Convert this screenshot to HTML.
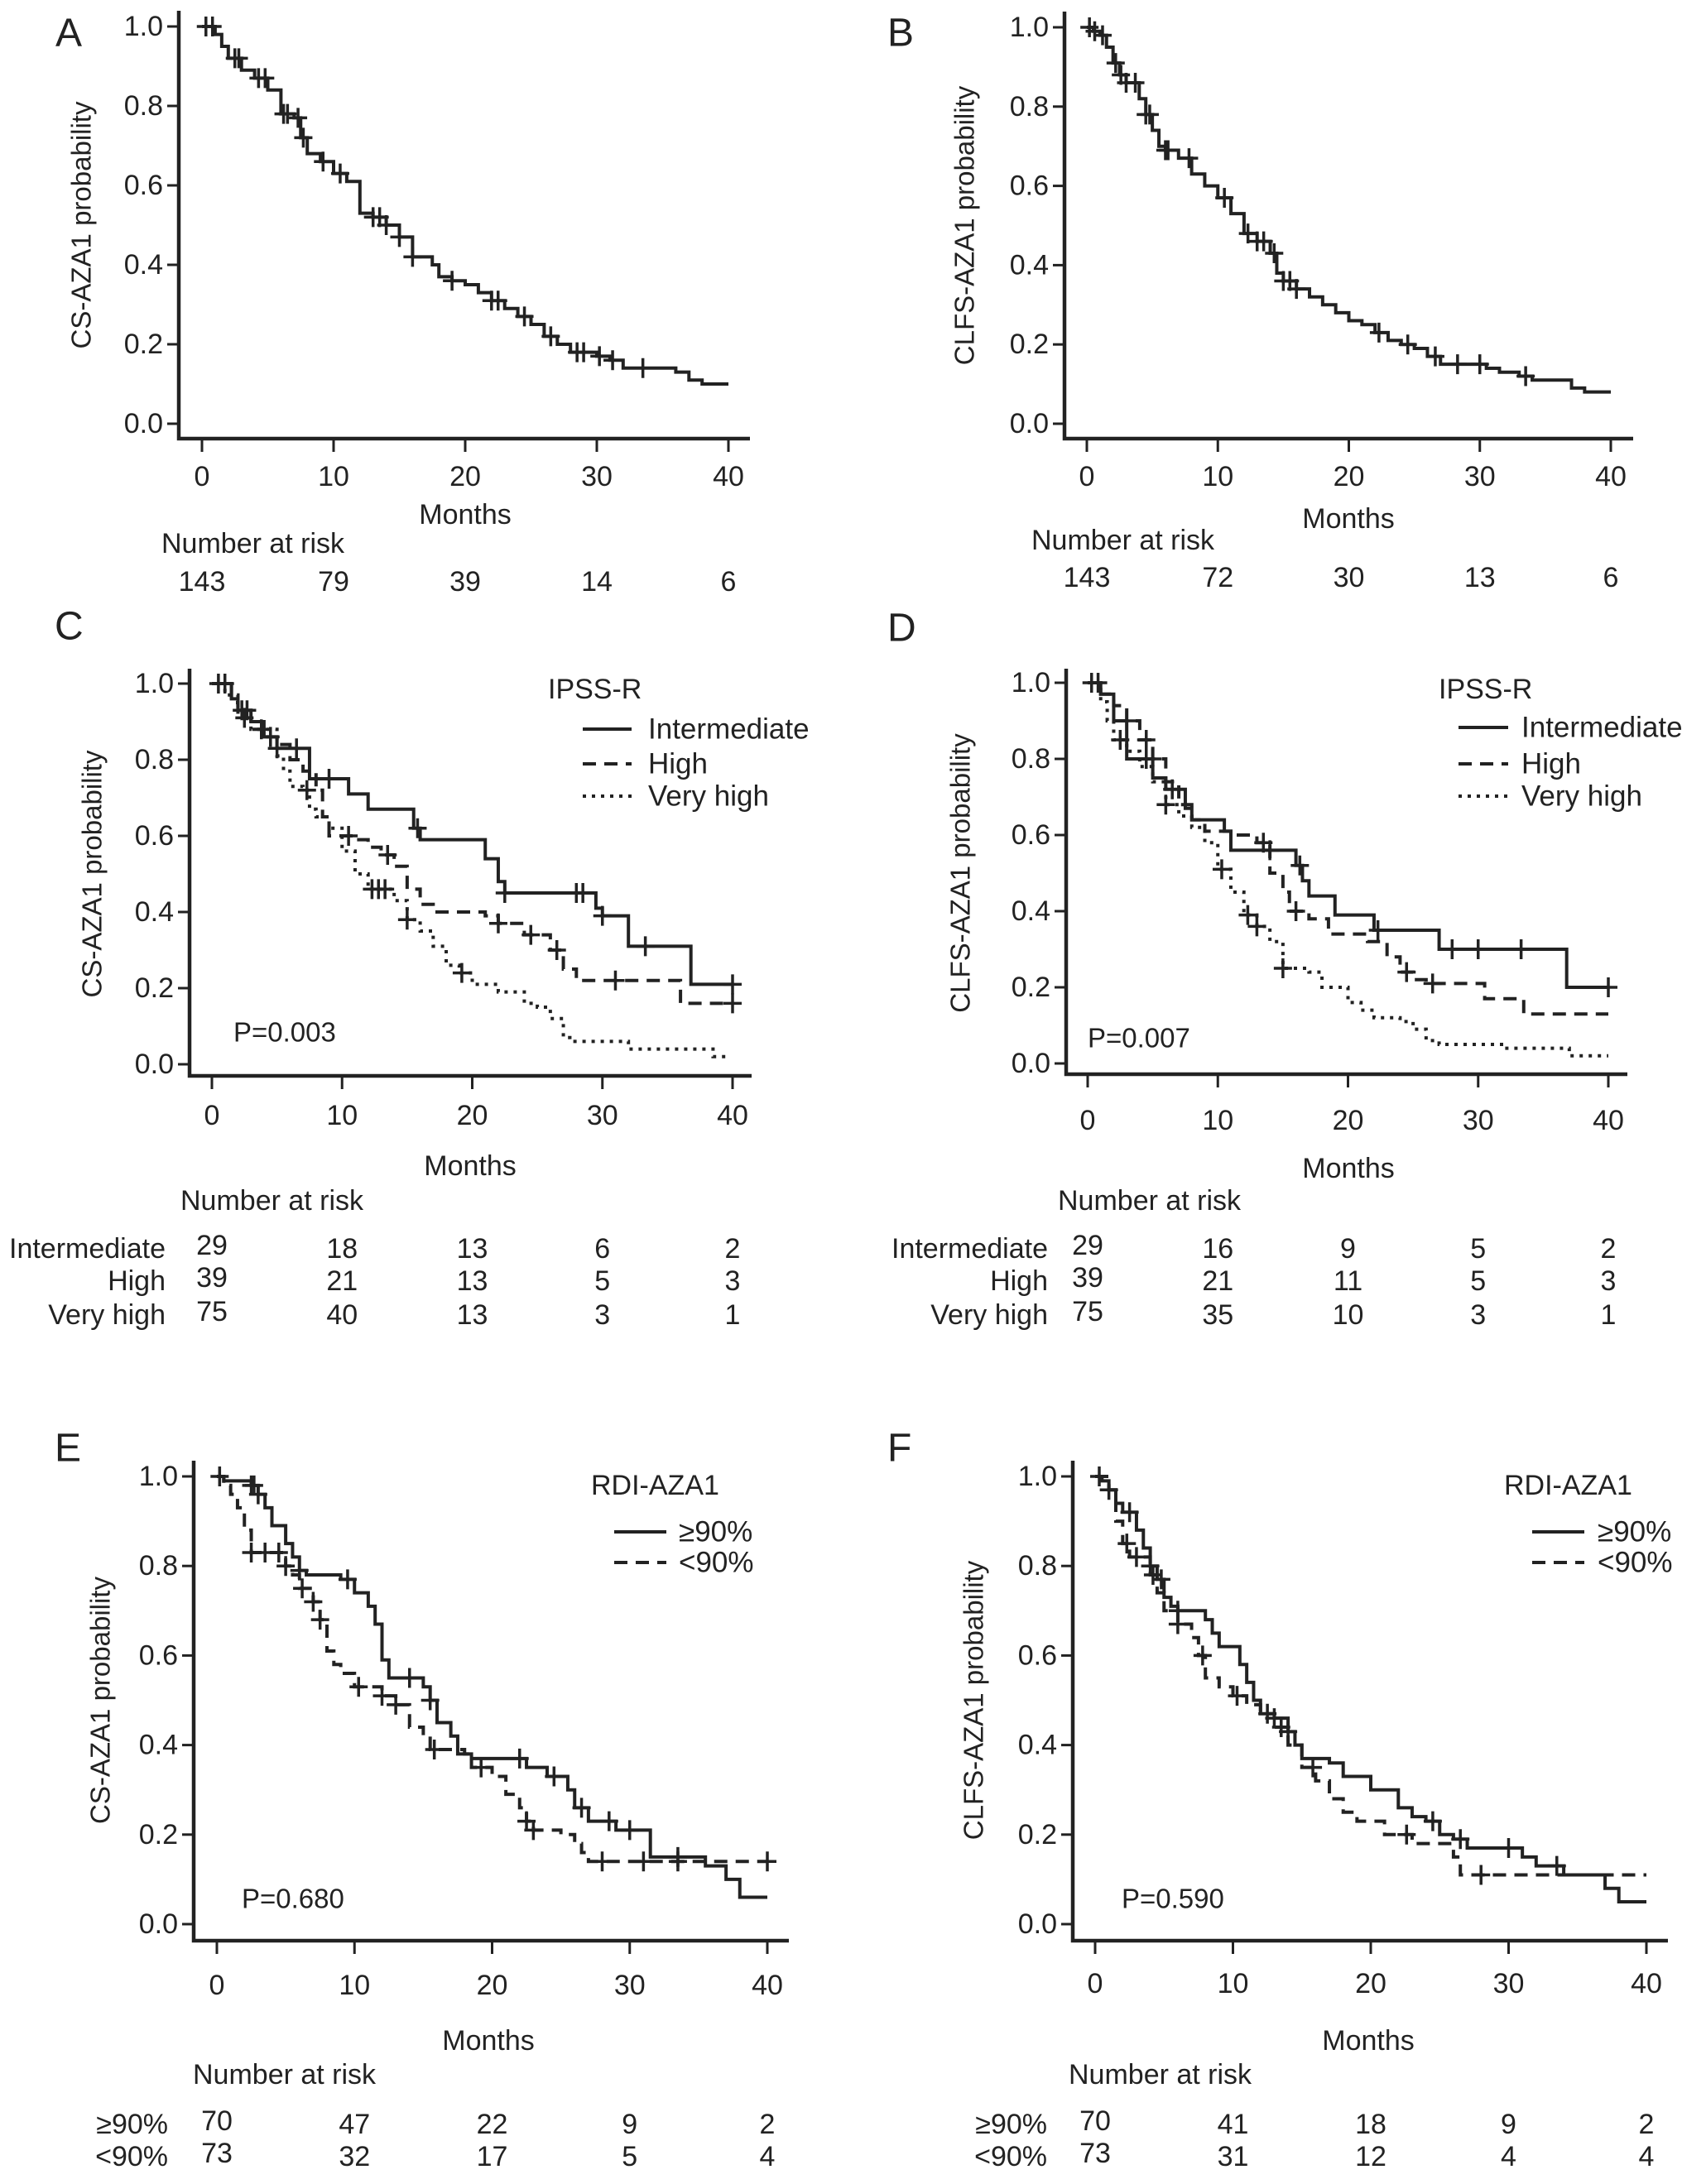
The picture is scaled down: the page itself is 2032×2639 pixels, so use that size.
<!DOCTYPE html>
<html><head><meta charset="utf-8">
<style>
html,body{margin:0;padding:0;background:#fff;}
svg{display:block;}
text{font-family:"Liberation Sans",sans-serif;fill:#222;}
</style></head>
<body>
<svg id="fig" width="2032" height="2639" viewBox="0 0 2032 2639" xmlns="http://www.w3.org/2000/svg"></svg>
<script>
// ---------- DATA ----------
// Panel A: CS-AZA1 overall
const aTimes = [0,1,1.5,2,3,4,5,6,7,7.5,8,9,10,11,12,13,14,15,16,17.5,18,19,20,21,22,23,24,25,26,27,28,30,31,32,36,37,38,40];
const aSurv  = [1,0.98,0.95,0.92,0.89,0.87,0.84,0.78,0.77,0.72,0.68,0.66,0.63,0.61,0.53,0.52,0.50,0.47,0.42,0.40,0.37,0.36,0.35,0.33,0.31,0.29,0.27,0.25,0.22,0.20,0.18,0.17,0.16,0.14,0.13,0.11,0.10,0.10];
const aCens  = [0.3,0.8,2.5,2.8,4.3,4.8,6.2,6.5,7.3,7.7,9.2,10.5,13,13.5,14,15,16,19,22,22.5,24.5,26.5,28.5,29,30.2,31.2,33.5];
const aRisk  = [143,79,39,14,6];
// Panel B: CLFS-AZA1 overall
const bTimes = [0,0.5,1,1.5,2,2.5,3,4,4.5,5,5.5,6,7,8,9,10,11,12,13,14,14.5,15,16,17,18,19,20,21,22,23,24,25,26,27,30.5,31.5,33,34,37,38,40];
const bSurv  = [1,0.99,0.98,0.95,0.91,0.88,0.86,0.82,0.78,0.74,0.70,0.69,0.67,0.63,0.60,0.57,0.53,0.48,0.46,0.43,0.38,0.36,0.34,0.32,0.30,0.28,0.26,0.25,0.23,0.21,0.20,0.19,0.17,0.15,0.14,0.13,0.12,0.11,0.09,0.08,0.08];
const bCens  = [0.2,0.6,1.2,2.2,2.6,3,3.7,4.5,4.8,6,6.2,7.8,10.5,12.3,13,13.5,14.3,15,15.5,16,22.3,24.5,26.6,28.3,30,33.5];
const bRisk  = [143,72,30,13,6];
// Panel C: CS by IPSS-R
const cIntTimes = [0,1.5,2,3,4,5,7.5,10.5,12,15.5,16,21,22,22.5,29.5,30,32,36.8,40];
const cIntSurv  = [1,0.96,0.93,0.90,0.86,0.83,0.75,0.71,0.67,0.62,0.59,0.54,0.48,0.45,0.41,0.39,0.31,0.21,0.21];
const cIntCens  = [0.5,1,5,6.5,9,15.8,22.5,28,28.5,30,33.3,40];
const cHighTimes = [0,1.5,2,3,4,5,6,7,8,8.5,9,11,12,13,14,15,16,17,21,22,24,26,27,28,36,40];
const cHighSurv  = [1,0.95,0.91,0.88,0.86,0.84,0.80,0.77,0.72,0.65,0.60,0.59,0.57,0.55,0.52,0.46,0.42,0.40,0.39,0.37,0.34,0.30,0.25,0.22,0.16,0.16];
const cHighCens  = [2.5,4.5,10.5,13.5,22,24.5,26.5,31,40];
const cVhTimes = [0,1,2,3,5,5.5,6,7,7.5,8,9,10,11,12,14,15,16,17,18,19,20,22,24,25,26,27,27.5,32,38.5,39.5];
const cVhSurv  = [1,0.97,0.93,0.88,0.81,0.77,0.73,0.72,0.67,0.65,0.62,0.56,0.50,0.46,0.43,0.38,0.35,0.31,0.26,0.24,0.21,0.19,0.16,0.15,0.12,0.07,0.06,0.04,0.02,0.02];
const cVhCens  = [2.3,2.7,3.8,7.3,12.3,12.8,13.3,15,19.2];
const cRiskInt = [29,18,13,6,2];
const cRiskHigh = [39,21,13,5,3];
const cRiskVh = [75,40,13,3,1];
// Panel D: CLFS by IPSS-R
const dIntTimes = [0,1,2,3,5,6,7.5,8,10.5,11,16,16.5,17,19,22,27,36.8,40];
const dIntSurv  = [1,0.97,0.90,0.80,0.75,0.72,0.67,0.64,0.61,0.56,0.52,0.48,0.44,0.39,0.35,0.30,0.20,0.20];
const dIntCens  = [0.3,0.8,4.5,6.5,14,16.3,22.3,28,30,33.3,40];
const dHighTimes = [0,1,2,3,4,5,6,7,8,9,11,13,14,15,15.5,17,18.5,21.5,23,24,25,26,30.5,33.5,40];
const dHighSurv  = [1,0.97,0.94,0.90,0.85,0.80,0.74,0.68,0.64,0.61,0.60,0.58,0.50,0.45,0.40,0.38,0.34,0.32,0.28,0.24,0.22,0.21,0.17,0.13,0.13];
const dHighCens  = [3,4.5,5,13.5,16,24.5,26.5];
const dVhTimes = [0,1,1.5,2,3,4,5,6,7,8,9,10,11,12,13,14,15,17,18,20,21,22,24,25,26,27,32,37,40];
const dVhSurv  = [1,0.95,0.90,0.85,0.82,0.78,0.74,0.68,0.65,0.62,0.58,0.51,0.45,0.39,0.36,0.32,0.25,0.24,0.20,0.16,0.14,0.12,0.11,0.09,0.06,0.05,0.04,0.02,0.02];
const dVhCens  = [2.5,6,10.3,12.3,13,15];
const dRiskInt = [29,16,9,5,2];
const dRiskHigh = [39,21,11,5,3];
const dRiskVh = [75,35,10,3,1];
// Panel E: CS by RDI-AZA1
const eHiTimes = [0,0.5,2.5,3,3.5,4,5,5.5,6,6.5,9,10,11,11.5,12,12.5,15,15.5,16,17,17.5,18.5,22.5,24,25.5,26,27,29,31.5,35.5,37,38,40];
const eHiSurv  = [1,0.99,0.98,0.96,0.93,0.89,0.85,0.82,0.79,0.78,0.77,0.74,0.71,0.67,0.59,0.55,0.53,0.50,0.45,0.42,0.38,0.37,0.35,0.33,0.30,0.26,0.23,0.21,0.15,0.13,0.10,0.06,0.06];
const eHiCens  = [0.2,2.5,2.7,3,6,9.5,14,15.5,22,24.5,26.5,28.5,30,33.5];
const eLoTimes = [0,0.5,1,1.5,2,2.5,5,5.5,6,7,7.5,8,8.5,9,10,12,13,14,15,15.5,18,18.5,20,21,22,22.5,23,25,26,26.5,27,40];
const eLoSurv  = [1,0.98,0.96,0.93,0.88,0.83,0.80,0.78,0.75,0.72,0.68,0.61,0.58,0.56,0.53,0.51,0.49,0.44,0.42,0.39,0.38,0.35,0.33,0.29,0.26,0.23,0.21,0.20,0.18,0.16,0.14,0.14];
const eLoCens  = [2.5,3.5,4.5,5,6.2,7,7.5,10.3,12,13,15.8,19.2,22.5,23,28,31,33.5,40];
const eRiskHi = [70,47,22,9,2];
const eRiskLo = [73,32,17,5,4];
// Panel F: CLFS by RDI-AZA1
const fHiTimes = [0,0.5,1,1.5,2,3,3.5,4,4.5,5,5.5,6,8,8.5,9,10.5,11,11.5,12,13,14,14.5,15,17,18,20,22,23,24,25,26,27,31,32,34,37,38,40];
const fHiSurv  = [1,0.99,0.97,0.94,0.92,0.88,0.84,0.80,0.77,0.73,0.71,0.70,0.68,0.65,0.62,0.58,0.54,0.50,0.47,0.46,0.43,0.40,0.37,0.36,0.33,0.30,0.26,0.24,0.23,0.20,0.19,0.17,0.15,0.13,0.11,0.08,0.05,0.05];
const fHiCens  = [0.3,1,2.5,4,4.8,6,12.5,13,14,24.5,26.5,30,33.5];
const fLoTimes = [0,1,1.5,2,2.5,4,4.5,5,6,7,7.5,8,9,10,11,12,13,14,15,16,17,18,19,21,23,26,26.5,40];
const fLoSurv  = [1,0.97,0.90,0.85,0.82,0.78,0.74,0.70,0.67,0.64,0.60,0.55,0.53,0.51,0.49,0.47,0.44,0.40,0.35,0.32,0.28,0.25,0.23,0.20,0.18,0.15,0.11,0.11];
const fLoCens  = [2.3,3,4.2,6,7.8,10.3,13.5,15.8,22.6,28];
const fRiskHi = [70,41,18,9,2];
const fRiskLo = [73,31,12,4,4];

const xTicks = [0,10,20,30,40];
const yTicks = [0,0.2,0.4,0.6,0.8,1.0];
const yTickLabels = ["0.0","0.2","0.4","0.6","0.8","1.0"];

// ---------- DRAWING ----------
const NS = "http://www.w3.org/2000/svg";
const svg = document.getElementById('fig');
const FS = 34;
function mk(tag, attrs, parent){
  const e = document.createElementNS(NS, tag);
  for (const k in attrs) e.setAttribute(k, attrs[k]);
  (parent||svg).appendChild(e);
  return e;
}
function txt(parent, x, y, s, size, anchor, name){
  const t = mk('text', {x:x, y:y, 'font-size':size, 'text-anchor':anchor||'start', 'dominant-baseline':'central'}, parent);
  
  
  t.textContent = s;
  return t;
}
function survAt(times, surv, t){
  let s = surv[0];
  for (let i=0;i<times.length;i++){ if (times[i] <= t) s = surv[i]; }
  return s;
}

const panels = [
 {id:'a', letter:'A', lx:67, ly:40, yax:216, ax0:244, ax40:880, y1:32, y0:512, top:13, xay:530, right:906, ylab:'CS-AZA1 probability', ylx:98,
  tly:576, mx:562, my:622, nrx:195, nry:657, rowsY:[703], rowLabels:[null], risks:[aRisk],
  series:[{t:aTimes,s:aSurv,c:aCens,dash:null,name:'overall'}]},
 {id:'b', letter:'B', lx:1072, ly:40, yax:1286, ax0:1313, ax40:1946, y1:33, y0:512, top:14, xay:530, right:1973, ylab:'CLFS-AZA1 probability', ylx:1165,
  tly:576, mx:1629, my:627, nrx:1246, nry:653, rowsY:[698], rowLabels:[null], risks:[bRisk],
  series:[{t:bTimes,s:bSurv,c:bCens,dash:null,name:'overall'}]},
 {id:'c', letter:'C', lx:66, ly:757, yax:229, ax0:256, ax40:885, y1:826, y0:1286, top:808, xay:1300, right:908, ylab:'CS-AZA1 probability', ylx:111,
  tly:1348, mx:568, my:1409, nrx:218, nry:1451, rowsY:[1509,1548,1589], rowLabels:['Intermediate','High','Very high'], rlx:200, risks:[cRiskInt,cRiskHigh,cRiskVh],
  legTitle:'IPSS-R', ltx:662, lty:833, llx1:704, llx2:763, lltx:783, legY:[881,923,962], pval:'P=0.003', px:282, py:1247,
  series:[{t:cIntTimes,s:cIntSurv,c:cIntCens,dash:null,name:'intermediate'},{t:cHighTimes,s:cHighSurv,c:cHighCens,dash:'16,10',name:'high'},{t:cVhTimes,s:cVhSurv,c:cVhCens,dash:'4,7',name:'very-high'}]},
 {id:'d', letter:'D', lx:1072, ly:759, yax:1288, ax0:1314, ax40:1943, y1:825, y0:1285, top:808, xay:1298, right:1966, ylab:'CLFS-AZA1 probability', ylx:1160,
  tly:1354, mx:1629, my:1412, nrx:1278, nry:1451, rowsY:[1509,1548,1589], rowLabels:['Intermediate','High','Very high'], rlx:1266, risks:[dRiskInt,dRiskHigh,dRiskVh],
  legTitle:'IPSS-R', ltx:1738, lty:833, llx1:1762, llx2:1822, lltx:1838, legY:[879,923,962], pval:'P=0.007', px:1314, py:1254,
  series:[{t:dIntTimes,s:dIntSurv,c:dIntCens,dash:null,name:'intermediate'},{t:dHighTimes,s:dHighSurv,c:dHighCens,dash:'16,10',name:'high'},{t:dVhTimes,s:dVhSurv,c:dVhCens,dash:'4,7',name:'very-high'}]},
 {id:'e', letter:'E', lx:66, ly:1750, yax:234, ax0:262, ax40:927, y1:1784, y0:2325, top:1765, xay:2345, right:953, ylab:'CS-AZA1 probability', ylx:121,
  tly:2399, mx:590, my:2466, nrx:233, nry:2507, rowsY:[2567,2606], rowLabels:['≥90%','<90%'], rlx:203, risks:[eRiskHi,eRiskLo],
  legTitle:'RDI-AZA1', ltx:714, lty:1795, llx1:742, llx2:805, lltx:820, legY:[1851,1888], pval:'P=0.680', px:292, py:2294,
  series:[{t:eHiTimes,s:eHiSurv,c:eHiCens,dash:null,name:'rdi-ge90'},{t:eLoTimes,s:eLoSurv,c:eLoCens,dash:'16,10',name:'rdi-lt90'}]},
 {id:'f', letter:'F', lx:1072, ly:1750, yax:1296, ax0:1323, ax40:1989, y1:1784, y0:2325, top:1765, xay:2345, right:2015, ylab:'CLFS-AZA1 probability', ylx:1176,
  tly:2397, mx:1653, my:2466, nrx:1291, nry:2507, rowsY:[2567,2606], rowLabels:['≥90%','<90%'], rlx:1265, risks:[fRiskHi,fRiskLo],
  legTitle:'RDI-AZA1', ltx:1817, lty:1795, llx1:1851, llx2:1914, lltx:1930, legY:[1851,1888], pval:'P=0.590', px:1355, py:2294,
  series:[{t:fHiTimes,s:fHiSurv,c:fHiCens,dash:null,name:'rdi-ge90'},{t:fLoTimes,s:fLoSurv,c:fLoCens,dash:'16,10',name:'rdi-lt90'}]}
];

panels.forEach(p => {
  const g = mk('g', {});
  
  
  const xs = t => p.ax0 + (p.ax40 - p.ax0) * t / 40;
  const ys = s => p.y0 - (p.y0 - p.y1) * s;

  txt(g, p.lx, p.ly, p.letter, 48, 'start', 'panel-letter');

  const axes = mk('path', {d:`M${p.yax},${p.top} L${p.yax},${p.xay} L${p.right},${p.xay}`, fill:'none', stroke:'#222', 'stroke-width':4.5}, g);
  
  

  yTicks.forEach((v,i) => {
    const y = ys(v);
    const tk = mk('line', {x1:p.yax-14, x2:p.yax, y1:y, y2:y, stroke:'#222', 'stroke-width':3}, g);
    
    
    txt(g, p.yax-19, y, yTickLabels[i], FS, 'end', 'y-tick-label');
  });
  xTicks.forEach(v => {
    const x = xs(v);
    const tk = mk('line', {x1:x, x2:x, y1:p.xay, y2:p.xay+16, stroke:'#222', 'stroke-width':3}, g);
    
    
    txt(g, x, p.tly, String(v), FS, 'middle', 'x-tick-label');
  });

  const yl = txt(g, 0, 0, p.ylab, 33, 'middle', 'y-axis-title');
  yl.setAttribute('transform', `translate(${p.ylx},${(p.y0+p.y1)/2}) rotate(-90)`);
  txt(g, p.mx, p.my, 'Months', FS, 'middle', 'x-axis-title');
  txt(g, p.nrx, p.nry, 'Number at risk', FS, 'start', 'number-at-risk-title');

  p.risks.forEach((row, ri) => {
    if (p.rowLabels[ri]) txt(g, p.rlx, p.rowsY[ri], p.rowLabels[ri], FS, 'end', 'risk-row-label');
    row.forEach((n, k) => txt(g, xs(xTicks[k]), p.rowsY[ri] + (k===0 && p.rowLabels[ri] ? -4 : 0), String(n), FS, 'middle', 'risk-count'));
  });

  p.series.forEach(se => {
    let d = `M${xs(se.t[0])},${ys(se.s[0])}`;
    for (let i=1;i<se.t.length;i++){
      d += ` L${xs(se.t[i])},${ys(se.s[i-1])} L${xs(se.t[i])},${ys(se.s[i])}`;
    }
    const attrs = {d:d, fill:'none', stroke:'#222', 'stroke-width':4};
    if (se.dash) attrs['stroke-dasharray'] = se.dash;
    const path = mk('path', attrs, g);
    
    
    se.c.forEach(ct => {
      const cx = xs(ct), cy = ys(survAt(se.t, se.s, ct));
      const m = mk('path', {d:`M${cx-11},${cy} L${cx+11},${cy} M${cx},${cy-12} L${cx},${cy+12}`, stroke:'#222', 'stroke-width':3.5, fill:'none'}, g);
      
      
    });
  });

  if (p.legTitle){
    const lg = mk('g', {}, g);
    
    
    txt(lg, p.ltx, p.lty, p.legTitle, FS, 'start', 'legend-title');
    p.series.forEach((se, i) => {
      const a = {x1:p.llx1, x2:p.llx2, y1:p.legY[i], y2:p.legY[i], stroke:'#222', 'stroke-width':4};
      if (se.dash) a['stroke-dasharray'] = se.dash;
      const ln = mk('line', a, lg);
      
      
      txt(lg, p.lltx, p.legY[i], p.rowLabels[i], 35, 'start', 'legend-entry');
    });
    txt(g, p.px, p.py, p.pval, 33, 'start', 'p-value');
  }
});
</script>
</body></html>
